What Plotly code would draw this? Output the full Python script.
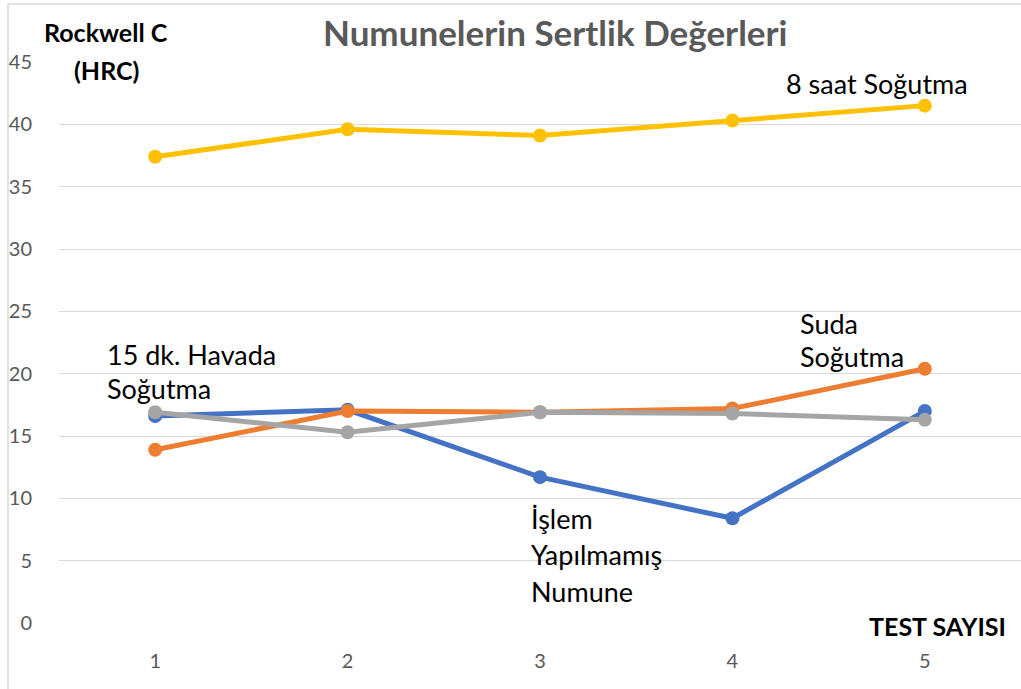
import plotly.graph_objects as go

test_no = [1, 2, 3, 4, 5]
islem_yapilmamis = [16.6, 17.1, 11.7, 8.4, 17.0]
suda_sogutma = [13.9, 17.0, 16.9, 17.2, 20.4]
havada_15dk = [16.9, 15.3, 16.9, 16.8, 16.3]
saat8_sogutma = [37.4, 39.6, 39.1, 40.3, 41.5]
y_ticks = [0, 5, 10, 15, 20, 25, 30, 35, 40, 45]

series = [
    ("İşlem Yapılmamış Numune", islem_yapilmamis, "#4472C4"),
    ("Suda Soğutma", suda_sogutma, "#ED7D31"),
    ("15 dk. Havada Soğutma", havada_15dk, "#A5A5A5"),
    ("8 saat Soğutma", saat8_sogutma, "#FFC000"),
]

FONT = "Lato"
fig = go.Figure()
for name, vals, col in series:
    fig.add_trace(go.Scatter(
        x=test_no, y=vals, name=name, mode="lines+markers",
        line=dict(color=col, width=5),
        marker=dict(color=col, size=14),
        cliponaxis=False,
    ))

W, H = 1021, 689
L, R, T, B = 59, 0, 62, 66
pw, ph = W - L - R, H - T - B


def px(x):
    return (x - L) / pw


def py(y):
    return (H - B - y) / ph


annots = []


def txt(text, x, y, size=27, bold=False, color="black", xanchor="left", yanchor="middle"):
    annots.append(dict(
        text=f"<b>{text}</b>" if bold else text,
        x=px(x), y=py(y), xref="paper", yref="paper",
        xanchor=xanchor, yanchor=yanchor, showarrow=False,
        font=dict(family=FONT, size=size, color=color),
    ))


txt("Numunelerin Sertlik Değerleri", 555, 32, size=35, bold=True, color="#595959", xanchor="center")
txt("Rockwell C", 106, 32, size=25, bold=True, xanchor="center")
txt("(HRC)", 106, 70, size=25, bold=True, xanchor="center")
txt("8 saat Soğutma", 877, 84, size=27, xanchor="center")
txt("15 dk. Havada", 105, 355, size=27)
txt("Soğutma", 105, 388, size=27)
txt("Suda", 798, 323, size=27)
txt("Soğutma", 798, 356, size=27)
txt("İşlem", 529, 518, size=27)
txt("Yapılmamış", 529, 554, size=27)
txt("Numune", 529, 591, size=27)
txt("TEST SAYISI", 1008, 626, size=25, bold=True, xanchor="right")

fig.update_layout(
    width=W, height=H,
    margin=dict(l=L, r=R, t=T, b=B),
    paper_bgcolor="white", plot_bgcolor="white",
    showlegend=False,
    annotations=annots,
    shapes=[dict(type="rect", xref="paper", yref="paper",
                 x0=px(8), x1=px(1040), y0=py(710), y1=py(4),
                 line=dict(color="#D9D9D9", width=1.5), fillcolor="rgba(0,0,0,0)", layer="below")],
    font=dict(family=FONT, color="#595959", size=20),
)
fig.update_xaxes(
    range=[0.5, 5.5], tickvals=test_no, ticktext=[str(v) for v in test_no],
    showgrid=False, zeroline=False, showline=False,
    ticks="outside", ticklen=20, tickcolor="rgba(0,0,0,0)",
    tickfont=dict(family=FONT, size=20, color="#595959"),
)
fig.update_yaxes(
    range=[0, 45], tickvals=y_ticks,
    showgrid=True, gridcolor="#D9D9D9", gridwidth=1.3, zeroline=False, showline=False,
    ticks="outside", ticklen=22, tickcolor="rgba(0,0,0,0)",
    tickfont=dict(family=FONT, size=20, color="#595959"),
)
fig.write_html("out.html", config={"displayModeBar": False})

with open("out.html", "r", encoding="utf-8") as f:
    html = f.read()
html = html.replace("<head>", "<head><style>html,body{margin:0;padding:0;overflow:hidden;}</style>", 1)
with open("out.html", "w", encoding="utf-8") as f:
    f.write(html)
